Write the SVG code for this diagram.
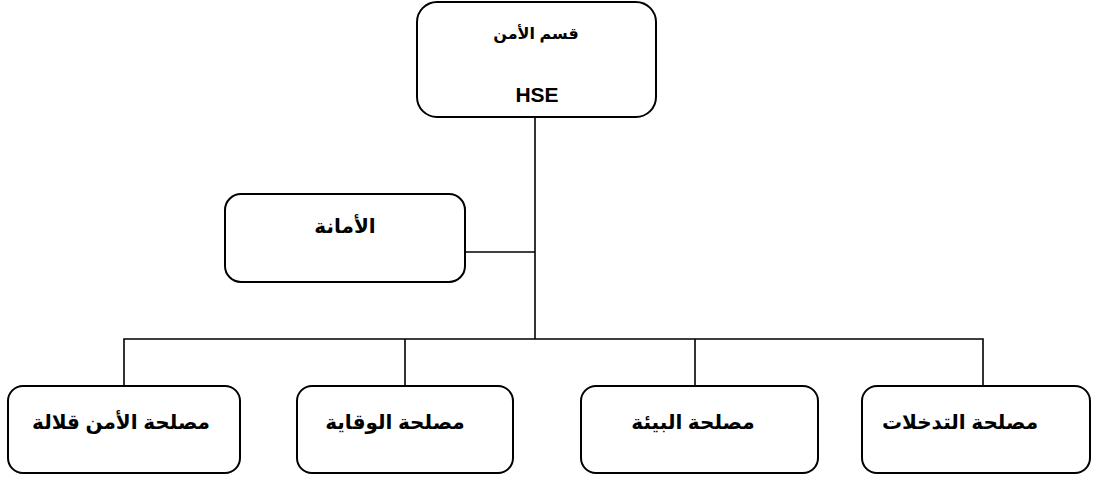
<svg xmlns="http://www.w3.org/2000/svg" width="1095" height="477" viewBox="0 0 1095 477">
<style>
.box{fill:#fff;stroke:#000;stroke-width:2}
.ln{stroke:#000;stroke-width:1.6;fill:none}
.t{font-family:"Liberation Sans","DejaVu Sans",sans-serif;font-weight:bold;text-anchor:middle;fill:#000}
</style>
<rect width="1095" height="477" fill="#fff"/>
<g id="connectors">
<path class="ln" d="M535 117 V339"/>
<path class="ln" d="M465 252 H535"/>
<path class="ln" d="M124 386 V339 H983 V386"/>
<path class="ln" d="M405 339 V386"/>
<path class="ln" d="M695 339 V386"/>
</g>
<g id="n-top">
<rect class="box" x="417" y="2" width="239" height="115" rx="20"/>
<text class="t" x="536" y="39" font-size="16" direction="rtl">قسم الأمن</text>
<text class="t" x="537" y="102" font-size="21">HSE</text>
</g>
<g id="n-amana">
<rect class="box" x="225" y="194" width="240" height="88" rx="16"/>
<text class="t" x="345" y="233" font-size="20" direction="rtl">الأمانة</text>
</g>
<g id="n-1">
<rect class="box" x="8" y="386" width="232" height="87" rx="15"/>
<text class="t" x="121" y="429" font-size="20" direction="rtl">مصلحة الأمن قلالة</text>
</g>
<g id="n-2">
<rect class="box" x="297" y="386" width="216" height="87" rx="15"/>
<text class="t" x="395" y="429" font-size="20" direction="rtl">مصلحة الوقاية</text>
</g>
<g id="n-3">
<rect class="box" x="581" y="386" width="237" height="87" rx="15"/>
<text class="t" x="693" y="429" font-size="20" direction="rtl">مصلحة البيئة</text>
</g>
<g id="n-4">
<rect class="box" x="862" y="386" width="228" height="87" rx="15"/>
<text class="t" x="960" y="429" font-size="20" direction="rtl">مصلحة التدخلات</text>
</g>
</svg>
